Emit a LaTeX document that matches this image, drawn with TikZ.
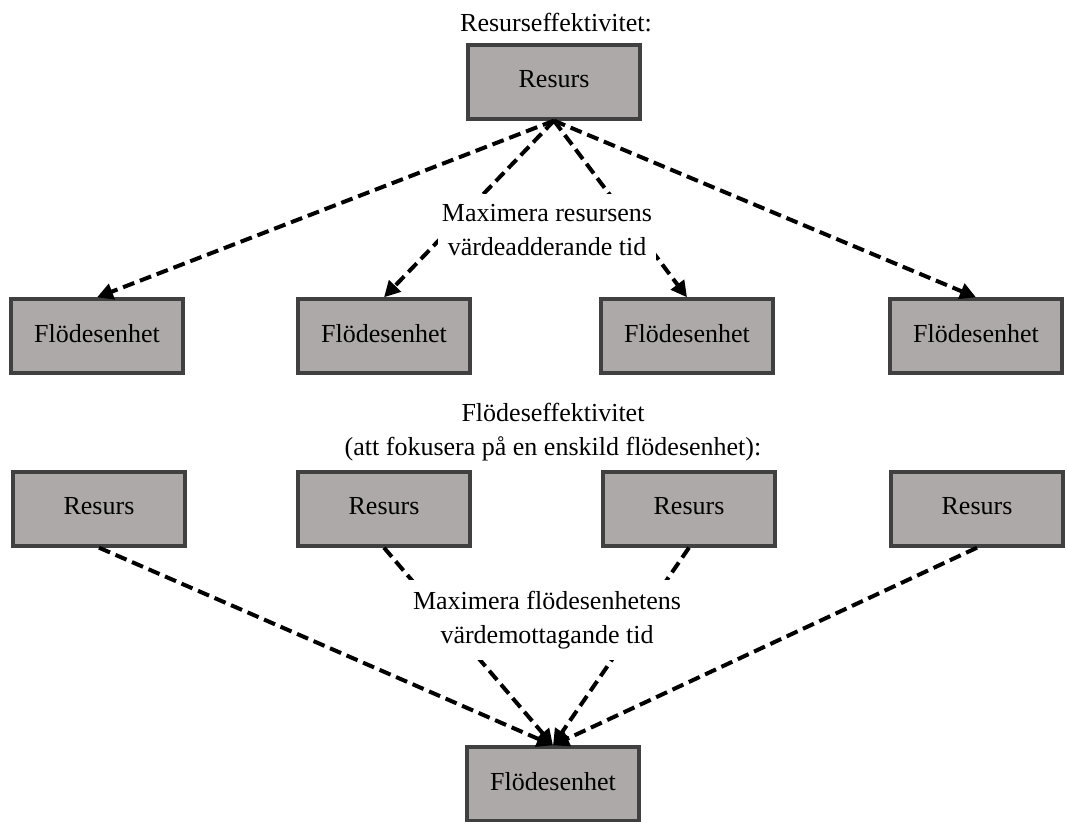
\documentclass[tikz,border=0pt]{standalone}
\usepackage{fontspec}
\setmainfont{Liberation Serif}
\usetikzlibrary{arrows.meta}
\definecolor{boxfill}{RGB}{173,169,168}
\definecolor{boxline}{RGB}{64,64,64}

\begin{document}
\begin{tikzpicture}[x=0.75pt,y=-0.75pt]
\tikzset{
  boxnode/.style={rectangle,draw=boxline,fill=boxfill,line width=3pt,minimum width=129pt,minimum height=55pt,inner sep=2pt,text depth=4pt,font=\fontsize{19.5}{25.5}\selectfont},
  notetext/.style={align=center,inner xsep=3pt,inner ysep=8pt,font=\fontsize{19.5}{25.5}\selectfont},
  directed/.style={-{Triangle[length=12pt,width=12pt]},line width=3pt,dash pattern=on 9pt off 4.5pt}
}
\useasboundingbox (0,0) rectangle (1067,821);
% resurseffektivitet
\node[notetext] (n_title1) at (556,23) {Resurseffektivitet:};
\node[boxnode] (n_res0) at (554,82) {Resurs};
\node[boxnode] (n_fl1) at (97,336) {Flödesenhet};
\node[boxnode] (n_fl2) at (384,336) {Flödesenhet};
\node[boxnode] (n_fl3) at (687,336) {Flödesenhet};
\node[boxnode] (n_fl4) at (976,336) {Flödesenhet};
\draw[directed] (n_res0.south) -- (n_fl1.north);
\draw[directed] (n_res0.south) -- (n_fl2.north);
\draw[directed] (n_res0.south) -- (n_fl3.north);
\draw[directed] (n_res0.south) -- (n_fl4.north);
\node[notetext,fill=white] (n_max1) at (547,230) {Maximera resursens\\värdeadderande tid};
% flödeseffektivitet
\node[notetext] (n_title2) at (553,432) {Flödeseffektivitet\\(att fokusera på en enskild flödesenhet):};
\node[boxnode] (n_res1) at (99,509) {Resurs};
\node[boxnode] (n_res2) at (384,509) {Resurs};
\node[boxnode] (n_res3) at (689,509) {Resurs};
\node[boxnode] (n_res4) at (977,509) {Resurs};
\node[boxnode] (n_fl0) at (553,784) {Flödesenhet};
\draw[directed] (n_res1.south) -- (n_fl0.north);
\draw[directed] (n_res2.south) -- (n_fl0.north);
\draw[directed] (n_res3.south) -- (n_fl0.north);
\draw[directed] (n_res4.south) -- (n_fl0.north);
\node[notetext,fill=white] (n_max2) at (547,620) {Maximera flödesenhetens\\värdemottagande tid};
\end{tikzpicture}
\end{document}
